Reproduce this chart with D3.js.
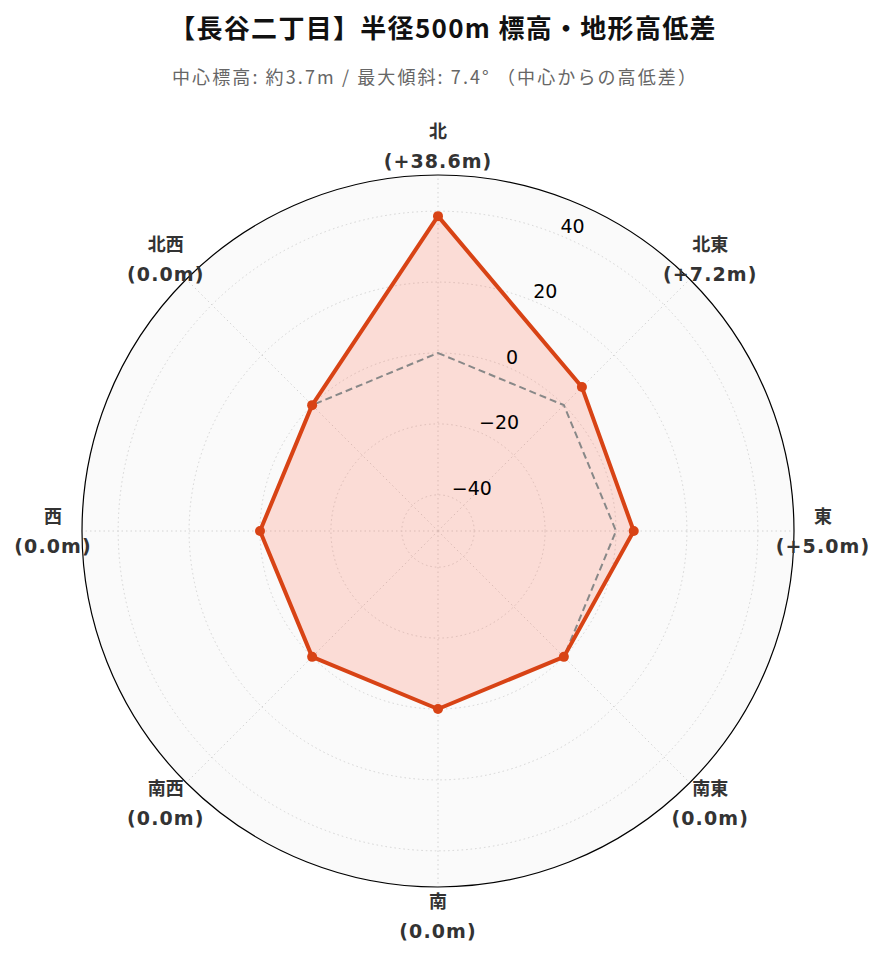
<!DOCTYPE html>
<html>
<head>
<meta charset="utf-8">
<script src="https://cdn.jsdelivr.net/npm/d3@7"></script>
<style>
  body { margin: 0; background: #fff; }
  svg text { font-family: "DejaVu Sans", "Noto Sans CJK JP", sans-serif; }
</style>
</head>
<body>
<svg id="chart"></svg>
<script>
// directions, clockwise from north
const directions = ['北', '北東', '東', '南東', '南', '南西', '西', '北西'];
const diffs = [38.6, 7.2, 5.0, 0.0, 0.0, 0.0, 0.0, 0.0];
const baseline = [0, 0, 0, 0, 0, 0, 0, 0];
const rTicks = [-40, -20, 0, 20, 40];
const rDomain = [-50.2, 50.2];

const titleText = '【長谷二丁目】半径500m 標高・地形高低差';
const subtitleText = '中心標高: 約3.7m / 最大傾斜: 7.4° （中心からの高低差）';

const W = 884, H = 962;
const cx = 438, cy = 531, R = 356;

const svg = d3.select('#chart').attr('width', W).attr('height', H);

svg.append('text')
  .attr('x', 443).attr('y', 38)
  .attr('text-anchor', 'middle')
  .style('font-family', '"Noto Sans CJK JP", sans-serif')
  .style('font-weight', 'bold')
  .style('font-size', '26px')
  .style('letter-spacing', '1.3px')
  .attr('fill', '#111')
  .text(titleText);

svg.append('text')
  .attr('x', 435).attr('y', 84)
  .attr('text-anchor', 'middle')
  .style('font-family', '"Noto Sans CJK JP", sans-serif')
  .style('font-size', '18px')
  .style('letter-spacing', '2.1px')
  .attr('fill', '#666')
  .text(subtitleText);

const g = svg.append('g').attr('transform', `translate(${cx},${cy})`);

const r = d3.scaleLinear().domain(rDomain).range([0, R]);
const angle = d3.scaleLinear().domain([0, directions.length]).range([0, 2 * Math.PI]);

// background
g.append('circle').attr('r', R).attr('fill', '#fafafa');

// circular grid
g.selectAll('.ring').data(rTicks).join('circle')
  .attr('class', 'ring')
  .attr('r', d => r(d))
  .attr('fill', 'none')
  .attr('stroke', '#d4d4d4')
  .attr('stroke-width', 1)
  .attr('stroke-dasharray', '1.5,3');

// spokes
g.selectAll('.spoke').data(directions).join('line')
  .attr('class', 'spoke')
  .attr('x1', 0).attr('y1', 0)
  .attr('x2', (d, i) => R * Math.sin(angle(i)))
  .attr('y2', (d, i) => -R * Math.cos(angle(i)))
  .attr('stroke', '#d4d4d4')
  .attr('stroke-width', 1)
  .attr('stroke-dasharray', '1.5,3');

const radial = d3.lineRadial()
  .angle((d, i) => angle(i))
  .radius(d => r(d))
  .curve(d3.curveLinearClosed);

// filled area
g.append('path')
  .datum(diffs)
  .attr('d', radial)
  .attr('fill', 'rgba(255,99,71,0.2)')
  .attr('stroke', 'none');

// zero reference
g.append('path')
  .datum(baseline)
  .attr('d', radial)
  .attr('fill', 'none')
  .attr('stroke', '#888')
  .attr('stroke-width', 2)
  .attr('stroke-dasharray', '7,4');

// main line
g.append('path')
  .datum(diffs)
  .attr('d', radial)
  .attr('fill', 'none')
  .attr('stroke', '#d84315')
  .attr('stroke-width', 4)
  .attr('stroke-linejoin', 'round');

g.selectAll('.pt').data(diffs).join('circle')
  .attr('class', 'pt')
  .attr('cx', (d, i) => r(d) * Math.sin(angle(i)))
  .attr('cy', (d, i) => -r(d) * Math.cos(angle(i)))
  .attr('r', 5)
  .attr('fill', '#d84315');

// outer frame
g.append('circle').attr('r', R).attr('fill', 'none').attr('stroke', '#000').attr('stroke-width', 1.2);

// radial tick labels at 22.5deg
const tickAng = Math.PI / 8;
g.selectAll('.rtick').data(rTicks).join('text')
  .attr('class', 'rtick')
  .attr('x', d => r(d) * Math.sin(tickAng))
  .attr('y', d => -r(d) * Math.cos(tickAng) - 3)
  .attr('text-anchor', 'start')
  .style('font-size', '19px')
  .attr('fill', '#000')
  .text(d => d < 0 ? '\u2212' + Math.abs(d) : d);

// direction labels
const labR = 385;
const lab = g.selectAll('.dir').data(directions).join('g')
  .attr('class', 'dir')
  .attr('transform', (d, i) => `translate(${labR * Math.sin(angle(i))},${-labR * Math.cos(angle(i))})`);

lab.append('text')
  .attr('y', -8)
  .attr('text-anchor', 'middle')
  .style('font-family', '"Noto Sans CJK JP", sans-serif')
  .style('font-weight', 'bold')
  .style('font-size', '18px')
  .attr('fill', '#333')
  .text(d => d);

lab.append('text')
  .attr('y', 22)
  .attr('text-anchor', 'middle')
  .style('font-weight', 'bold')
  .style('font-size', '19px')
  .style('letter-spacing', '1.1px')
  .attr('fill', '#333')
  .text((d, i) => `(${diffs[i] > 0 ? '+' : ''}${diffs[i].toFixed(1)}m)`);
</script>
</body>
</html>
